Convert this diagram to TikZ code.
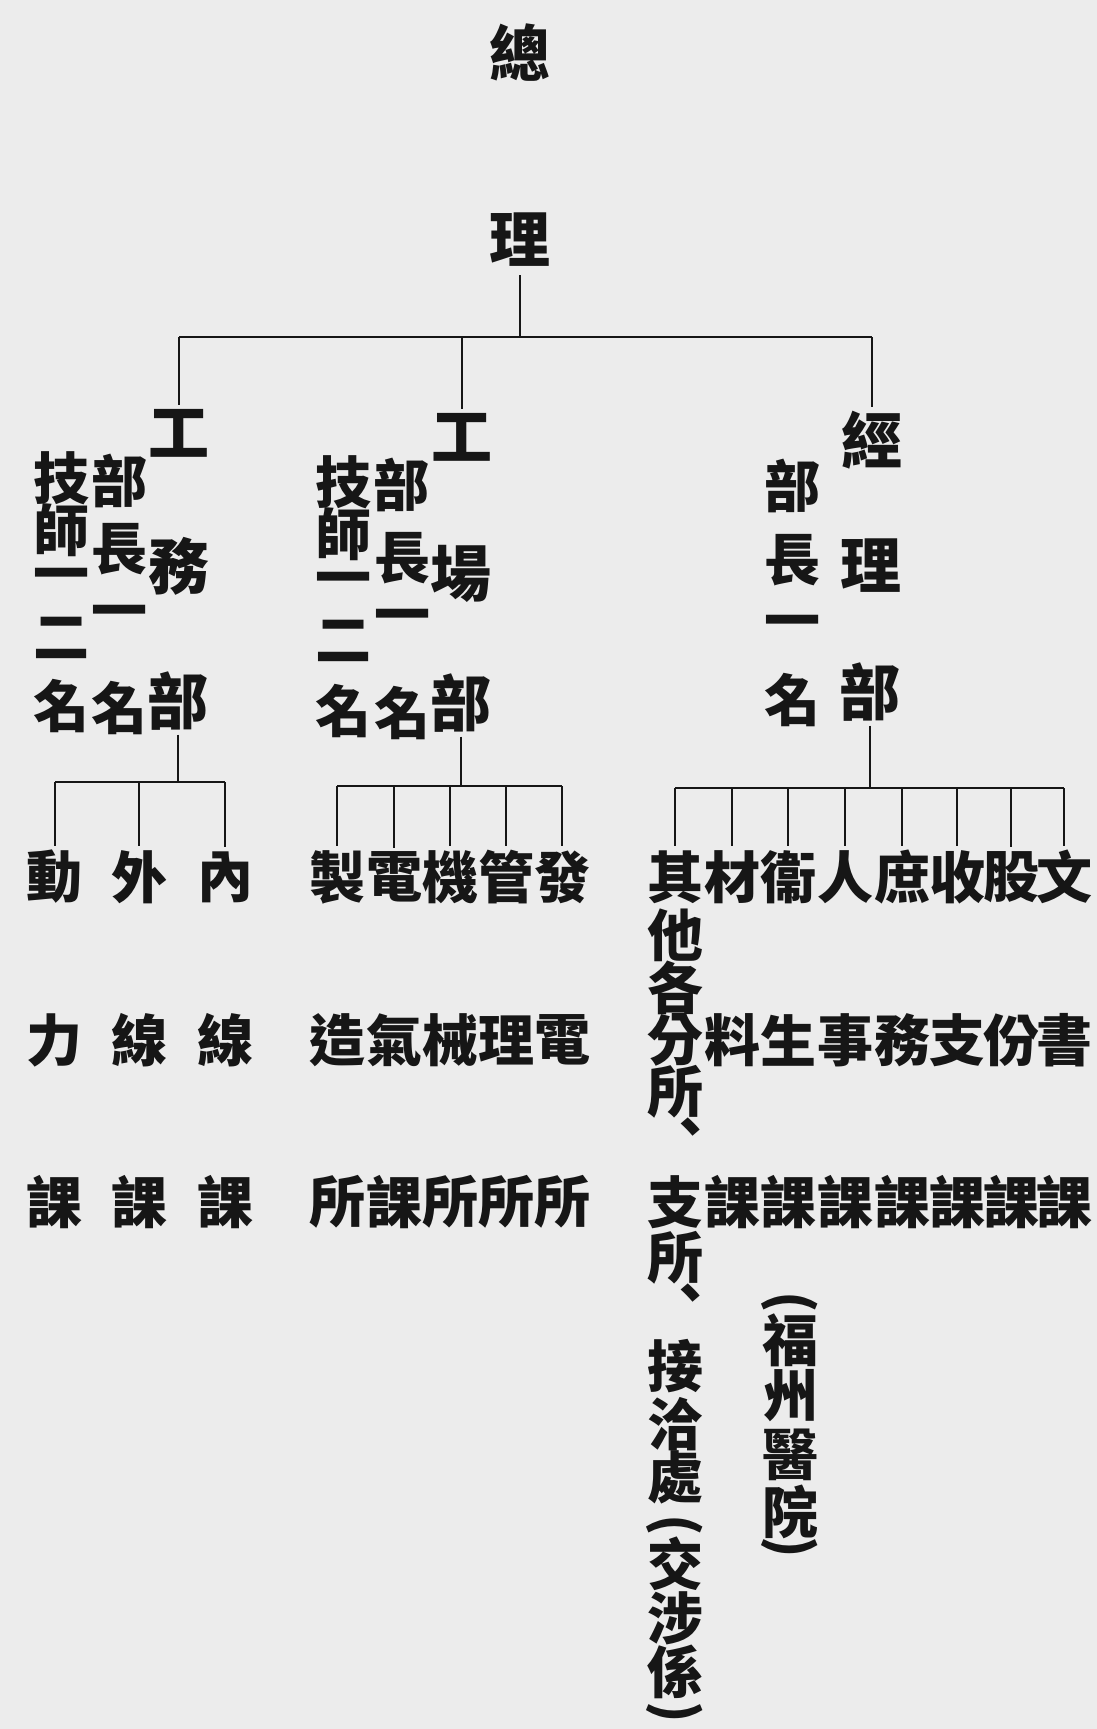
\documentclass[tikz,border=0pt]{standalone}
\usepackage{fontspec}
\newfontfamily\cjk{Noto Sans CJK TC}
\definecolor{paper}{RGB}{236,236,236}
\definecolor{ink}{RGB}{22,22,22}
\begin{document}
\begin{tikzpicture}[x=1pt,y=-1pt,
  ch/.style={font=\cjk\bfseries\fontsize{56}{56}\selectfont, inner sep=0pt, text=ink},
  bg/.style={font=\cjk\bfseries\fontsize{61}{61}\selectfont, inner sep=0pt, text=ink},
  par/.style={font=\cjk\bfseries\fontsize{54}{54}\selectfont, inner sep=0pt, text=ink, rotate=-90},
  ln/.style={draw=ink, line width=2.4pt}]
\fill[paper] (0,0) rectangle (1097,1729);
\useasboundingbox (0,0) rectangle (1097,1729);

% top
\node[bg] (zong) at (520,53) {總};
\node[bg] (li) at (520,240) {理};
\coordinate (busT) at (520,337);

% left block
\node[bg] (gA) at (179,433) {工};
\node[bg] (wuA) at (179,566) {務};
\node[bg] (buA) at (178,701) {部};
\node[ch] (bA1) at (119,481) {部};
\node[ch] (zA1) at (119,549) {長};
\node[ch] (yA1) at (119,618) {一};
\node[ch] (mA1) at (119,708) {名};
\node[ch] (jA) at (61,478) {技};
\node[ch] (sA) at (61,530) {師};
\node[ch] (yA2) at (61,581) {一};
\node[ch] (eA) at (61,638) {二};
\node[ch] (mA2) at (61,706) {名};

% middle block
\node[bg] (gB) at (462,437) {工};
\node[bg] (chB) at (461,574) {場};
\node[bg] (buB) at (461,703) {部};
\node[ch] (bB1) at (401,485) {部};
\node[ch] (zB1) at (402,558) {長};
\node[ch] (yB1) at (402,622) {一};
\node[ch] (mB1) at (402,713) {名};
\node[ch] (jB) at (343,482) {技};
\node[ch] (sB) at (343,534) {師};
\node[ch] (yB2) at (343,585) {一};
\node[ch] (eB) at (343,641) {二};
\node[ch] (mB2) at (343,711) {名};

% right block
\node[bg] (jgC) at (872,440) {經};
\node[bg] (liC) at (871,566) {理};
\node[bg] (buC) at (870,692) {部};
\node[ch] (bC1) at (792,486) {部};
\node[ch] (zC1) at (792,560) {長};
\node[ch] (yC1) at (792,628) {一};
\node[ch] (mC1) at (792,700) {名};

% top connectors
\draw[ln] ([yshift=-8pt]li.south) -- (busT);
\draw[ln] (gA.north |- busT) -- (jgC.north |- busT);
\draw[ln] (gA.north |- busT) -- ([yshift=4pt]gA.north);
\draw[ln] (gB.north |- busT) -- ([yshift=4pt]gB.north);
\draw[ln] (jgC.north |- busT) -- ([yshift=4pt]jgC.north);

% left sub-units
\coordinate (busA) at (0,782);
\node[ch] (a11) at (55,877) {動};
\node[ch] (a12) at (139,877) {外};
\node[ch] (a13) at (225,877) {內};
\node[ch] (a21) at (55,1040) {力};
\node[ch] (a22) at (139,1040) {線};
\node[ch] (a23) at (225,1040) {線};
\node[ch] (a31) at (55,1202) {課};
\node[ch] (a32) at (139,1202) {課};
\node[ch] (a33) at (225,1202) {課};
\draw[ln] ([yshift=-4pt]buA.south) -- (buA.south |- busA);
\draw[ln] (a11.north |- busA) -- (a13.north |- busA);
\foreach \n in {a11,a12,a13} \draw[ln] (\n.north |- busA) -- ([yshift=4pt]\n.north);

% middle sub-units
\coordinate (busB) at (0,786);
\node[ch] (b11) at (337,877) {製};
\node[ch] (b12) at (394,877) {電};
\node[ch] (b13) at (450,877) {機};
\node[ch] (b14) at (506,877) {管};
\node[ch] (b15) at (562,877) {發};
\node[ch] (b21) at (337,1040) {造};
\node[ch] (b22) at (394,1040) {氣};
\node[ch] (b23) at (450,1040) {械};
\node[ch] (b24) at (506,1040) {理};
\node[ch] (b25) at (562,1040) {電};
\node[ch] (b31) at (337,1202) {所};
\node[ch] (b32) at (394,1202) {課};
\node[ch] (b33) at (450,1202) {所};
\node[ch] (b34) at (506,1202) {所};
\node[ch] (b35) at (562,1202) {所};
\draw[ln] ([yshift=-4pt]buB.south) -- (buB.south |- busB);
\draw[ln] (b11.north |- busB) -- (b15.north |- busB);
\foreach \n in {b11,b12,b13,b14,b15} \draw[ln] (\n.north |- busB) -- ([yshift=4pt]\n.north);

% right sub-units
\coordinate (busC) at (0,788);
\node[ch] (c11) at (675,877) {其};
\node[ch] (c12) at (732,877) {材};
\node[ch] (c13) at (788,877) {衞};
\node[ch] (c14) at (845,877) {人};
\node[ch] (c15) at (902,877) {庶};
\node[ch] (c16) at (957,877) {收};
\node[ch] (c17) at (1011,877) {股};
\node[ch] (c18) at (1064,877) {文};
\node[ch] (c21) at (675,1040) {分};
\node[ch] (c22) at (732,1040) {料};
\node[ch] (c23) at (788,1040) {生};
\node[ch] (c24) at (845,1040) {事};
\node[ch] (c25) at (902,1040) {務};
\node[ch] (c26) at (957,1040) {支};
\node[ch] (c27) at (1011,1040) {份};
\node[ch] (c28) at (1064,1040) {書};
\node[ch] (c31) at (675,1202) {支};
\node[ch] (c32) at (732,1202) {課};
\node[ch] (c33) at (788,1202) {課};
\node[ch] (c34) at (845,1202) {課};
\node[ch] (c35) at (902,1202) {課};
\node[ch] (c36) at (957,1202) {課};
\node[ch] (c37) at (1011,1202) {課};
\node[ch] (c38) at (1064,1202) {課};
\draw[ln] ([yshift=-4pt]buC.south) -- (buC.south |- busC);
\draw[ln] (c11.north |- busC) -- (c18.north |- busC);
\foreach \n in {c11,c12,c13,c14,c15,c16,c17,c18} \draw[ln] (\n.north |- busC) -- ([yshift=4pt]\n.north);

% long column under 其
\node[ch] (k2) at (675,935) {他};
\node[ch] (k3) at (675,988) {各};
\node[ch] (k5) at (675,1092) {所};
\node[ch] (k6) at (690,1133) {、};
\node[ch] (k8) at (675,1258) {所};
\node[ch] (k9) at (690,1299) {、};
\node[ch] (k10) at (675,1366) {接};
\node[ch] (k11) at (675,1424) {洽};
\node[ch] (k12) at (675,1477) {處};
\node[par] (k13) at (675,1525) {(};
\node[ch] (k14) at (675,1564) {交};
\node[ch] (k15) at (675,1618) {涉};
\node[ch] (k16) at (675,1672) {係};
\node[par] (k17) at (675,1712) {)};

% (福州醫院)
\node[par] (f0) at (790,1302) {(};
\node[ch] (f1) at (790,1340) {福};
\node[ch] (f2) at (790,1396) {州};
\node[ch] (f3) at (790,1455) {醫};
\node[ch] (f4) at (790,1512) {院};
\node[par] (f5) at (790,1547) {)};
\end{tikzpicture}
\end{document}
